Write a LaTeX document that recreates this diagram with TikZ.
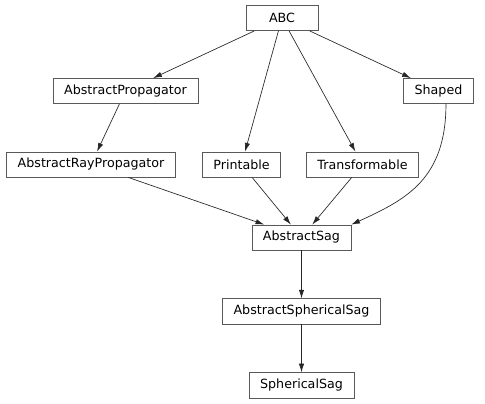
\documentclass[tikz,border=0pt]{standalone}
\usepackage{fontspec}
\setmainfont{DejaVu Sans}
\usepackage{tikz}
\usetikzlibrary{arrows, arrows.meta, positioning}

\begin{document}
\begin{tikzpicture}[x=0.75pt, y=-0.75pt,
    cls/.style={rectangle, draw=black!65, fill=white, inner xsep=8.3pt, inner ysep=0pt, minimum height=19pt, font=\fontsize{9.5pt}{11pt}\selectfont},
    dep/.style={draw=black!85, line width=0.5pt, -{Latex[length=6.5pt, width=4pt]}}]
            \useasboundingbox (0,0) rectangle (485,403);
            \node[cls, minimum width=54pt] (abc) at (282,18) {ABC};
            \node[cls] (aprop) at (125.5,91) {AbstractPropagator};
            \node[cls] (shaped) at (438.5,91) {Shaped};
            \node[cls] (arprop) at (91,164.5) {AbstractRayPropagator};
            \node[cls] (print) at (241.5,164.5) {Printable};
            \node[cls] (trans) at (362.5,164.5) {Transformable};
            
            \node[cls] (asag) at (301.5,237.5) {AbstractSag};
            \node[cls] (assag) [below = 36pt of asag] {AbstractSphericalSag};
            \node[cls] (ssag) [below = 36pt of assag] {SphericalSag};
            
            \path  (abc) edge [dep] (aprop);
            \path  (abc) edge [dep] (print);
            \path  (abc) edge [dep] (trans);
            \path  (abc) edge [dep] (shaped);
            \path  (aprop) edge [dep] (arprop);
            \path  (arprop) edge [dep] (asag);
            \path  (print) edge [dep] (asag);
            \path  (trans) edge [dep] (asag);
            \draw[dep]  ([xshift=5.6pt]shaped.south) .. controls +(0,75) and +(55,-25) .. (asag.north east);
            \path  (asag) edge [dep] (assag);
            \path  (assag) edge [dep] (ssag);
        \end{tikzpicture}
\end{document}
